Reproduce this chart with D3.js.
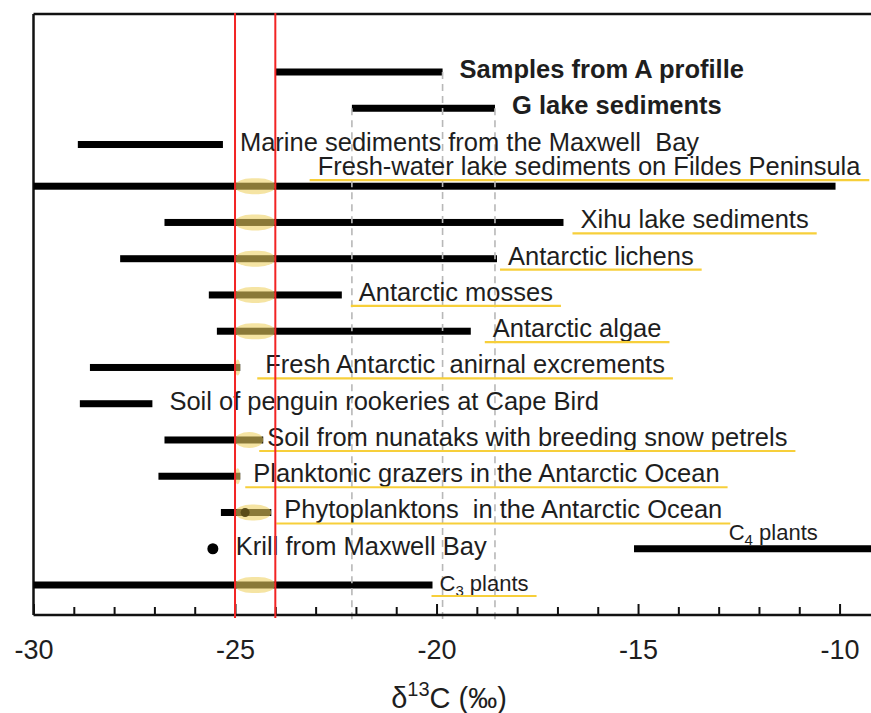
<!DOCTYPE html>
<html>
<head>
<meta charset="utf-8">
<script src="https://cdn.jsdelivr.net/npm/d3@7"></script>
<style>
  body { margin: 0; background: #fff; }
  svg { display: block; }
  text { font-family: "Liberation Sans", Arial, Helvetica, sans-serif; fill: #1e1e1e; white-space: pre; }
</style>
</head>
<body>
<svg id="chart" width="871" height="713"></svg>
<script>
// δ13C ranges of organic matter sources (‰)
const categories = [
  "Samples from A profille",
  "G lake sediments",
  "Marine sediments from the Maxwell  Bay",
  "Fresh-water lake sediments on Fildes Peninsula",
  "Xihu lake sediments",
  "Antarctic lichens",
  "Antarctic mosses",
  "Antarctic algae",
  "Fresh Antarctic  anirnal excrements",
  "Soil of penguin rookeries at Cape Bird",
  "Soil from nunataks with breeding snow petrels",
  "Planktonic grazers in the Antarctic Ocean",
  "Phytoplanktons  in the Antarctic Ocean",
  "Krill from Maxwell Bay",
  "C4 plants",
  "C3 plants"
];
const lowValues  = [-24.0, -22.1, -28.9, -30.0, -26.75, -27.85, -25.65, -25.45, -28.6, -28.85, -26.75, -26.9, -25.35, -25.55, -15.1, -30.0];
const highValues = [-19.85, -18.55, -25.3, -10.1, -16.85, -18.5, -22.35, -19.15, -24.87, -27.05, -24.3, -24.87, -24.1, -25.55, -8.0, -20.1];
// mean marker drawn on the phytoplankton range
const meanValues = { "Phytoplanktons  in the Antarctic Ocean": -24.75 };
// rows of the chart (C4 plants sit on the krill row)
const rowOrder = categories.filter(c => c !== "C4 plants");
const rowOf = { "C4 plants": "Krill from Maxwell Bay" };
// highlighted δ13C band of the lake samples
const bandValues = [-25, -24];
const tickValues = d3.range(-30, -9, 1);
const boldLabels = ["Samples from A profille", "G lake sediments"];

// ---- layout ----
const svg = d3.select("#chart");
const W = 871;
const plotLeft = 33.5, plotTop = 14, axisY = 615;
const x = d3.scaleLinear().domain([-30, -9.22]).range([plotLeft, W]);

// labels set above their bar (anchored at a δ13C value)
const labelAbove = { "Fresh-water lake sediments on Fildes Peninsula": -22.95, "C4 plants": -12.75 };
// rows whose label sits above the bar get a little extra room
const slots = [];
rowOrder.reduce((acc, c, i) => {
  const s = i === 0 ? 0 : acc + 1 + (c in labelAbove ? 0.15 : 0);
  slots.push(s);
  return s;
}, 0);
const yPos = d3.scaleLinear().domain([0, slots[slots.length - 1]]).range([72, 585]);
const y = c => yPos(slots[rowOrder.indexOf(c)]);

const rowsData = categories.map((c, i) => ({
  name: c, lo: lowValues[i], hi: highValues[i],
  row: rowOf[c] || c, mean: meanValues[c]
}));

// label gap after the range end (px)
const labelGap = {
  "Antarctic lichens": 11, "Antarctic algae": 22, "Fresh Antarctic  anirnal excrements": 25,
  "Soil from nunataks with breeding snow petrels": 4, "Planktonic grazers in the Antarctic Ocean": 13,
  "Phytoplanktons  in the Antarctic Ocean": 13, "Krill from Maxwell Bay": 23, "C3 plants": 7
};

// guide lines at the sample ranges
const guides = [
  { v: highValues[0], from: categories[0] },
  { v: lowValues[1], from: categories[1] },
  { v: highValues[1], from: categories[1] }
];

// frame
svg.append("line").attr("x1", plotLeft).attr("x2", W).attr("y1", plotTop).attr("y2", plotTop)
  .attr("stroke", "#111").attr("stroke-width", 2.5);
svg.append("line").attr("x1", plotLeft).attr("x2", plotLeft).attr("y1", plotTop).attr("y2", axisY)
  .attr("stroke", "#111").attr("stroke-width", 2.5);

// range bars
const bars = rowsData.filter(d => d.hi > d.lo);
svg.append("g").selectAll("rect").data(bars).join("rect")
  .attr("x", d => x(d.lo)).attr("width", d => x(d.hi) - x(d.lo))
  .attr("y", d => y(d.row) - 3.5).attr("height", 7)
  .attr("fill", "#000");

svg.append("g").selectAll("line").data(guides).join("line")
  .attr("x1", d => x(d.v)).attr("x2", d => x(d.v))
  .attr("y1", d => y(d.from)).attr("y2", axisY + 7)
  .attr("stroke", "#b8b8b8").attr("stroke-width", 1.6)
  .attr("stroke-dasharray", "7,5");

// single-value points
svg.append("g").selectAll("circle").data(rowsData.filter(d => d.hi === d.lo)).join("circle")
  .attr("cx", d => x(d.lo)).attr("cy", d => y(d.row)).attr("r", 5.5).attr("fill", "#000");

// overlap with the highlighted band
const marked = rowsData.filter(d => !boldLabels.includes(d.name) &&
  Math.min(d.hi, bandValues[1]) > Math.max(d.lo, bandValues[0]));
const ovLo = d => x(Math.max(d.lo, bandValues[0]));
const ovHi = d => x(Math.min(d.hi, bandValues[1]));
svg.append("g").selectAll("rect").data(marked).join("rect")
  .attr("x", ovLo).attr("width", d => ovHi(d) - ovLo(d))
  .attr("y", d => y(d.row) - 8).attr("height", 16)
  .attr("rx", d => Math.min((ovHi(d) - ovLo(d)) / 2, 17)).attr("ry", 8)
  .attr("fill", "#edd060").attr("opacity", 0.58);

// mean markers
svg.append("g").selectAll("circle").data(rowsData.filter(d => d.mean !== undefined)).join("circle")
  .attr("cx", d => x(d.mean)).attr("cy", d => y(d.row)).attr("r", 4.5)
  .attr("fill", "#5a4c18");

// labels
const labels = svg.append("g").selectAll("text").data(rowsData).join("text")
  .attr("font-size", d => /^C\d /.test(d.name) ? 22 : 25.5)
  .attr("font-weight", d => boldLabels.includes(d.name) ? "bold" : "normal")
  .attr("x", d => d.name in labelAbove ? x(labelAbove[d.name])
                 : x(d.hi) + (d.name in labelGap ? labelGap[d.name] : 17))
  .attr("y", d => d.name in labelAbove ? y(d.row) - (/^C\d /.test(d.name) ? 9 : 11) : y(d.row) + 6);
labels.each(function(d) {
  const t = d3.select(this);
  const m = d.name.match(/^C(\d) (.*)$/);
  if (m) {
    t.append("tspan").text("C");
    t.append("tspan").attr("font-size", 15).attr("dy", 5).text(m[1]);
    t.append("tspan").attr("dy", -5).text(" " + m[2]);
  } else {
    t.text(d.name);
  }
});

// yellow underlines of the marked labels
const markedNames = new Set(marked.map(d => d.name));
labels.filter(d => markedNames.has(d.name)).each(function() {
  const b = this.getBBox();
  const base = +d3.select(this).attr("y");
  svg.append("line")
    .attr("x1", b.x - 8).attr("x2", b.x + b.width + 8)
    .attr("y1", base + 5).attr("y2", base + 5)
    .attr("stroke", "#f7cf3a").attr("stroke-width", 2.2);
});

// x axis with inward ticks
const axis = svg.append("g").attr("transform", `translate(0,${axisY})`)
  .call(d3.axisBottom(x).tickValues(tickValues).tickSize(-8).tickSizeOuter(0)
    .tickFormat(d => d % 5 === 0 ? String(d) : ""));
axis.select(".domain").attr("d", `M${plotLeft},0H${W}`).attr("stroke", "#111").attr("stroke-width", 2.5);
axis.selectAll(".tick line").attr("stroke", "#111").attr("stroke-width", 2)
  .attr("y2", d => d % 5 === 0 ? -11 : -8);
axis.selectAll(".tick text").attr("y", 25).attr("dy", "0.71em")
  .attr("font-size", 27).attr("fill", "#1e1e1e")
  .style("font-family", "'Liberation Sans', Arial, sans-serif");

// δ13C band limits
svg.append("g").selectAll("line").data(bandValues).join("line")
  .attr("x1", d => x(d)).attr("x2", d => x(d))
  .attr("y1", plotTop - 1).attr("y2", axisY + 3)
  .attr("stroke", "#f22424").attr("stroke-width", 2);

// axis title
const title = svg.append("text").attr("x", 449).attr("y", 708)
  .attr("text-anchor", "middle").attr("font-size", 29);
title.append("tspan").text("δ");
title.append("tspan").attr("font-size", 20).attr("dy", -12).text("13");
title.append("tspan").attr("dy", 12).text("C (‰)");
</script>
</body>
</html>
